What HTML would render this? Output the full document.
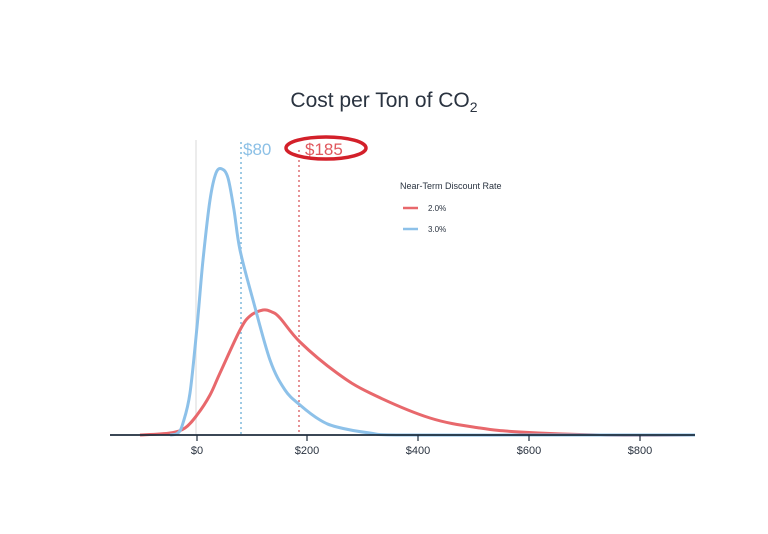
<!DOCTYPE html>
<html><head><style>body{margin:0;background:#fff}</style></head><body>
<svg width="768" height="529" xmlns="http://www.w3.org/2000/svg" font-family="Liberation Sans, sans-serif">
<text x="384" y="107" text-anchor="middle" font-size="21" fill="#2a3340">Cost per Ton of CO<tspan font-size="14" dy="5">2</tspan></text>
<line x1="196" y1="140" x2="196" y2="435" stroke="#e6e6e6" stroke-width="1.5"/>
<line x1="241" y1="142" x2="241" y2="435" stroke="#6aaed6" stroke-width="1.3" stroke-dasharray="2,3"/>
<line x1="299" y1="150" x2="299" y2="435" stroke="#d9575e" stroke-width="1.3" stroke-dasharray="2,3"/>
<text x="243" y="155" font-size="17" fill="#8cc0e6">$80</text>
<text x="305" y="155" font-size="17" fill="#e0585e">$185</text>
<ellipse cx="326" cy="148" rx="40" ry="11" fill="none" stroke="#d3202a" stroke-width="3.5"/>
<path id="red" fill="none" stroke="#e8686c" stroke-width="3"/>
<path id="blue" fill="none" stroke="#8dc1e9" stroke-width="3"/>
<line x1="110" y1="435" x2="695" y2="435" stroke="#1f2d3d" stroke-width="1.8"/>
<g stroke="#1f2d3d" stroke-width="1.2">
<line x1="197" y1="435" x2="197" y2="441"/><line x1="307" y1="435" x2="307" y2="441"/><line x1="418" y1="435" x2="418" y2="441"/><line x1="529" y1="435" x2="529" y2="441"/><line x1="640" y1="435" x2="640" y2="441"/></g>
<g font-size="11" fill="#2a3340" text-anchor="middle">
<text x="197" y="454">$0</text><text x="307" y="454">$200</text><text x="418" y="454">$400</text><text x="529" y="454">$600</text><text x="640" y="454">$800</text></g>
<text x="400" y="189" font-size="9" fill="#2a3340">Near-Term Discount Rate</text>
<line x1="403" y1="208" x2="418" y2="208" stroke="#e8686c" stroke-width="2.5"/>
<line x1="403" y1="229" x2="418" y2="229" stroke="#8dc1e9" stroke-width="2.5"/>
<text x="428" y="211" font-size="8" fill="#2a3340">2.0%</text>
<text x="428" y="232" font-size="8" fill="#2a3340">3.0%</text>
</svg>
<script>
function cr(p){var d="M"+p[0][0]+","+p[0][1];for(var i=0;i<p.length-1;i++){var a=p[Math.max(i-1,0)],b=p[i],c=p[i+1],e=p[Math.min(i+2,p.length-1)];
var c1=[b[0]+(c[0]-a[0])/6,b[1]+(c[1]-a[1])/6],c2=[c[0]-(e[0]-b[0])/6,c[1]-(e[1]-b[1])/6];
d+=" C"+c1[0].toFixed(1)+","+c1[1].toFixed(1)+" "+c2[0].toFixed(1)+","+c2[1].toFixed(1)+" "+c[0]+","+c[1];}return d;}
var B=[[170,435],[178,433],[183,423],[190,393],[197,327],[203,260],[210,200],[216,173],[222,169],[228,178],[234,210],[240,250],[253,300],[270,360],[285,390],[300,405],[320,420],[337,427],[370,433],[400,435],[550,435],[695,435]];
var R=[[140,435],[170,433],[185,428],[197,415],[210,395],[220,373],[240,330],[250,316],[263,310],[272,312],[280,318],[300,342],[337,373],[370,393],[430,418],[480,428],[520,432],[600,435],[695,435]];
document.getElementById("blue").setAttribute("d",cr(B));
document.getElementById("red").setAttribute("d",cr(R));
</script>
</body></html>
